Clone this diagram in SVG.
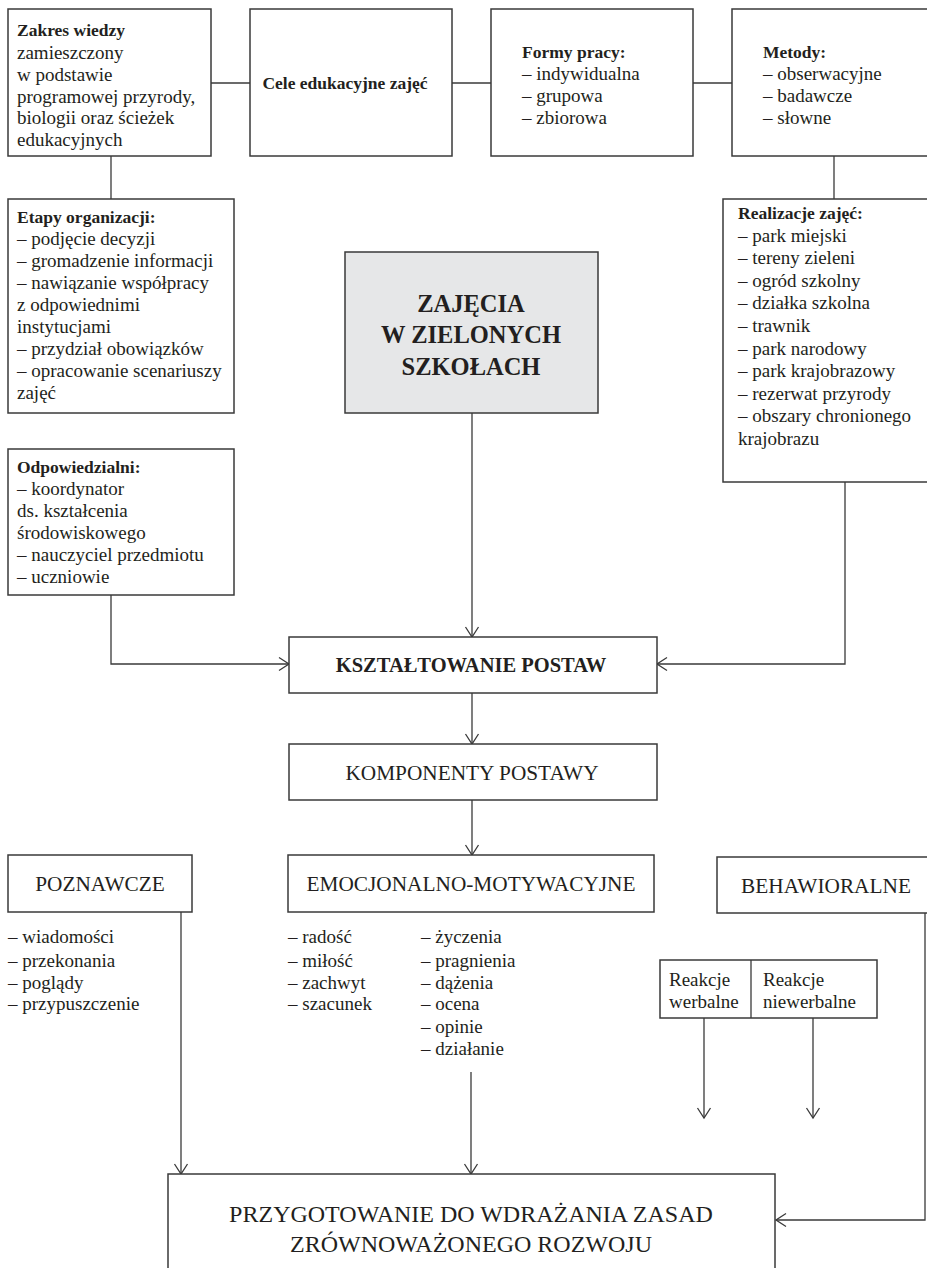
<svg xmlns="http://www.w3.org/2000/svg" width="927" height="1268" viewBox="0 0 927 1268">
<defs>
<style>
.box{fill:#fff;stroke:#3a3a3a;stroke-width:1.5}
.main{fill:#e6e7e8;stroke:#3a3a3a;stroke-width:1.5}
.t{font-family:"Liberation Serif","Times New Roman",serif;font-size:19px;fill:#231f20}
.b{font-family:"Liberation Serif","Times New Roman",serif;font-size:17.5px;font-weight:bold;fill:#231f20}
.c{text-anchor:middle}
.kp{font-size:20.5px}
.cap{font-family:"Liberation Serif","Times New Roman",serif;font-size:21.3px;fill:#231f20;text-anchor:middle}
.big{font-family:"Liberation Serif","Times New Roman",serif;font-size:24.5px;font-weight:bold;fill:#231f20;text-anchor:middle}
.fin{font-family:"Liberation Serif","Times New Roman",serif;font-size:24px;fill:#231f20;text-anchor:middle}
.ln{fill:none;stroke:#3a3a3a;stroke-width:1.3}
.ar{fill:none;stroke:#3a3a3a;stroke-width:1.3;marker-end:url(#arr)}
</style>
<marker id="arr" markerUnits="userSpaceOnUse" markerWidth="14" markerHeight="16" refX="11" refY="7" orient="auto" overflow="visible">
<path d="M1,0.5 L11,7 L1,13.5" fill="none" stroke="#3a3a3a" stroke-width="1.3"/>
</marker>
</defs>
<rect width="927" height="1268" fill="#fff"/>

<g id="connectors">
<line class="ln" x1="211" y1="83" x2="250" y2="83"/>
<line class="ln" x1="452" y1="83" x2="491" y2="83"/>
<line class="ln" x1="693" y1="83" x2="732" y2="83"/>
<line class="ln" x1="111" y1="156" x2="111" y2="199"/>
<line class="ln" x1="834" y1="156" x2="834" y2="199"/>
<line class="ar" x1="472" y1="413" x2="472" y2="637"/>
<polyline class="ar" points="111,595 111,664 289,664"/>
<polyline class="ar" points="845,482 845,664 657,664"/>
<line class="ar" x1="472" y1="693" x2="472" y2="744"/>
<line class="ar" x1="472" y1="800" x2="472" y2="855"/>
<line class="ar" x1="181" y1="912" x2="181" y2="1174"/>
<line class="ar" x1="471" y1="1072" x2="471" y2="1174"/>
<line class="ar" x1="704" y1="1018" x2="704" y2="1118"/>
<line class="ar" x1="813" y1="1018" x2="813" y2="1118"/>
<polyline class="ar" points="925,913 925,1220 776,1220"/>
</g>

<g id="zakres">
<rect class="box" x="8" y="9" width="203" height="147"/>
<text class="b" x="17" y="36">Zakres wiedzy</text>
<text class="t" x="17" y="59">zamieszczony</text>
<text class="t" x="17" y="81">w podstawie</text>
<text class="t" x="17" y="103">programowej przyrody,</text>
<text class="t" x="17" y="124">biologii oraz ścieżek</text>
<text class="t" x="17" y="146">edukacyjnych</text>
</g>

<g id="cele">
<rect class="box" x="250" y="9" width="202" height="147"/>
<text class="b c" x="345" y="89">Cele edukacyjne zajęć</text>
</g>

<g id="formy">
<rect class="box" x="491" y="9" width="202" height="147"/>
<text class="b" x="522" y="58">Formy pracy:</text>
<text class="t" x="522" y="80">– indywidualna</text>
<text class="t" x="522" y="102">– grupowa</text>
<text class="t" x="522" y="124">– zbiorowa</text>
</g>

<g id="metody">
<rect class="box" x="732" y="9" width="210" height="147"/>
<text class="b" x="763" y="58">Metody:</text>
<text class="t" x="763" y="80">– obserwacyjne</text>
<text class="t" x="763" y="102">– badawcze</text>
<text class="t" x="763" y="124">– słowne</text>
</g>

<g id="etapy">
<rect class="box" x="8" y="199" width="226" height="214"/>
<text class="b" x="17" y="223">Etapy organizacji:</text>
<text class="t" x="17" y="245">– podjęcie decyzji</text>
<text class="t" x="17" y="267">– gromadzenie informacji</text>
<text class="t" x="17" y="289">– nawiązanie współpracy</text>
<text class="t" x="17" y="311">z odpowiednimi</text>
<text class="t" x="17" y="333">instytucjami</text>
<text class="t" x="17" y="355">– przydział obowiązków</text>
<text class="t" x="17" y="377">– opracowanie scenariuszy</text>
<text class="t" x="17" y="399">zajęć</text>
</g>

<g id="odpowiedzialni">
<rect class="box" x="8" y="449" width="226" height="146"/>
<text class="b" x="17" y="473">Odpowiedzialni:</text>
<text class="t" x="17" y="495">– koordynator</text>
<text class="t" x="17" y="517">ds. kształcenia</text>
<text class="t" x="17" y="539">środowiskowego</text>
<text class="t" x="17" y="561">– nauczyciel przedmiotu</text>
<text class="t" x="17" y="583">– uczniowie</text>
</g>

<g id="realizacje">
<rect class="box" x="723" y="199" width="220" height="283"/>
<text class="b" x="738" y="219">Realizacje zajęć:</text>
<text class="t" x="738" y="242">– park miejski</text>
<text class="t" x="738" y="264">– tereny zieleni</text>
<text class="t" x="738" y="287">– ogród szkolny</text>
<text class="t" x="738" y="309">– działka szkolna</text>
<text class="t" x="738" y="332">– trawnik</text>
<text class="t" x="738" y="355">– park narodowy</text>
<text class="t" x="738" y="377">– park krajobrazowy</text>
<text class="t" x="738" y="400">– rezerwat przyrody</text>
<text class="t" x="738" y="422">– obszary chronionego</text>
<text class="t" x="738" y="445">krajobrazu</text>
</g>

<g id="zajecia">
<rect class="main" x="345" y="252" width="253" height="161"/>
<text class="big" x="471" y="312">ZAJĘCIA</text>
<text class="big" x="471" y="343">W ZIELONYCH</text>
<text class="big" x="471" y="375">SZKOŁACH</text>
</g>

<g id="ksztaltowanie">
<rect class="box" x="289" y="637" width="368" height="56"/>
<text class="b c kp" x="471" y="672">KSZTAŁTOWANIE POSTAW</text>
</g>

<g id="komponenty">
<rect class="box" x="289" y="744" width="368" height="56"/>
<text class="cap" x="472" y="780">KOMPONENTY POSTAWY</text>
</g>

<g id="poznawcze">
<rect class="box" x="8" y="855" width="184" height="57"/>
<text class="cap" x="100" y="891">POZNAWCZE</text>
<text class="t" x="8" y="943">– wiadomości</text>
<text class="t" x="8" y="967">– przekonania</text>
<text class="t" x="8" y="989">– poglądy</text>
<text class="t" x="8" y="1010">– przypuszczenie</text>
</g>

<g id="emocjonalno">
<rect class="box" x="288" y="855" width="366" height="57"/>
<text class="cap" x="471" y="891">EMOCJONALNO-MOTYWACYJNE</text>
<text class="t" x="288" y="943">– radość</text>
<text class="t" x="288" y="967">– miłość</text>
<text class="t" x="288" y="989">– zachwyt</text>
<text class="t" x="288" y="1010">– szacunek</text>
<text class="t" x="421" y="943">– życzenia</text>
<text class="t" x="421" y="967">– pragnienia</text>
<text class="t" x="421" y="989">– dążenia</text>
<text class="t" x="421" y="1010">– ocena</text>
<text class="t" x="421" y="1033">– opinie</text>
<text class="t" x="421" y="1055">– działanie</text>
</g>

<g id="behawioralne">
<rect class="box" x="717" y="857" width="225" height="56"/>
<text class="cap" x="826" y="893">BEHAWIORALNE</text>
</g>

<g id="reakcje">
<rect class="box" x="660" y="960" width="217" height="58"/>
<line class="ln" x1="751" y1="960" x2="751" y2="1018"/>
<text class="t" x="669" y="986">Reakcje</text>
<text class="t" x="669" y="1008">werbalne</text>
<text class="t" x="763" y="986">Reakcje</text>
<text class="t" x="763" y="1008">niewerbalne</text>
</g>

<g id="przygotowanie">
<rect class="box" x="168" y="1174" width="607" height="120"/>
<text class="fin" x="471" y="1222">PRZYGOTOWANIE DO WDRAŻANIA ZASAD</text>
<text class="fin" x="471" y="1252">ZRÓWNOWAŻONEGO ROZWOJU</text>
</g>
</svg>
